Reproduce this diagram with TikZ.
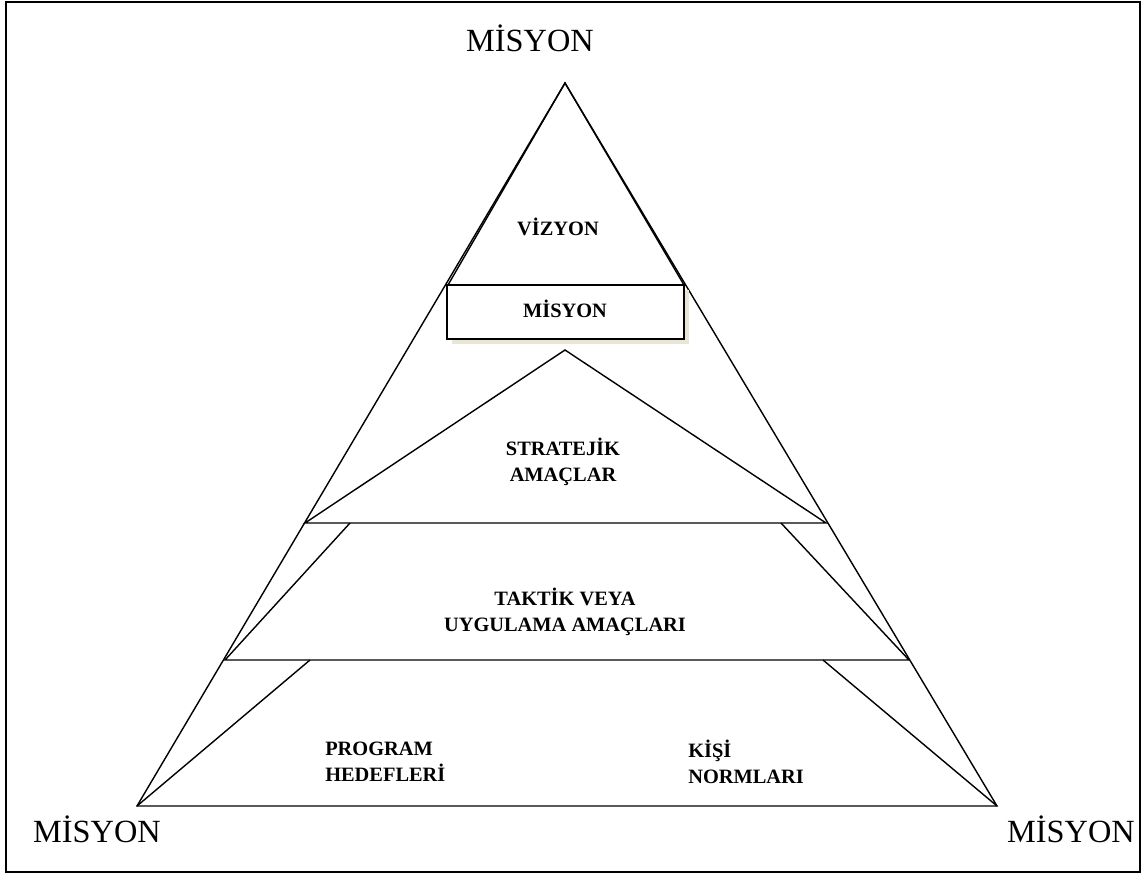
\documentclass[tikz,border=0pt]{standalone}
\usepackage{fontspec}
\setmainfont{Liberation Serif}
\definecolor{shadowbeige}{RGB}{234,230,214}
\tikzset{
  pyr/.style={draw=black, line width=1pt},
  bigtitle/.style={font=\fontsize{23}{27}\selectfont, inner sep=0pt},
  level/.style={font=\fontsize{14.5}{18.4}\selectfont\bfseries, inner sep=0pt}
}
\begin{document}
\begin{tikzpicture}[x=0.025cm, y=-0.025cm]
  \useasboundingbox (0,0) rectangle (1145,874);
  % Frame
  \draw[line width=1.2pt] (6,2) rectangle (1140,872);

  % Outer pyramid
  \coordinate (apex) at (565,83);
  \coordinate (bl) at (137,806);
  \coordinate (br) at (997,806);
  \draw[pyr] (apex) -- (bl) -- (br) -- cycle;

  % Vision triangle
  \draw[pyr] (apex) -- (448,285) -- (684,285) -- cycle;

  % Mission box with its shadow
  \fill[shadowbeige] (452,290) rectangle (689,344);
  \filldraw[fill=white, pyr] (447,285) rectangle (684,339);

  % Strategic goals
  \draw[pyr] (565,350) -- (305,523) -- (826,523) -- cycle;

  % Tactical goals
  \draw[pyr] (350,523) -- (225,660) -- (909,660) -- (781,523);

  % Program goals and personal norms
  \draw[pyr] (310,660) -- (bl);
  \draw[pyr] (823,660) -- (br);

  % Labels
  \node[bigtitle, anchor=base] (mtop) at (530,52) {MİSYON};
  \node[bigtitle, anchor=base] (mleft) at (97,842) {MİSYON};
  \node[bigtitle, anchor=base] (mright) at (1071,842) {MİSYON};

  \node[level, anchor=base] (vizyon) at (558,235) {VİZYON};
  \node[level, anchor=base] (misyon) at (565,317) {MİSYON};
  \node[level, align=center] (stratejik) at (563,462) {STRATEJİK\\AMAÇLAR};
  \node[level, align=center] (taktik) at (565,612) {TAKTİK VEYA\\UYGULAMA AMAÇLARI};
  \node[level, align=left, anchor=west] (program) at (325,762) {PROGRAM\\HEDEFLERİ};
  \node[level, align=left, anchor=west] (kisi) at (688,762) {KİŞİ\\NORMLARI};
\end{tikzpicture}
\end{document}
